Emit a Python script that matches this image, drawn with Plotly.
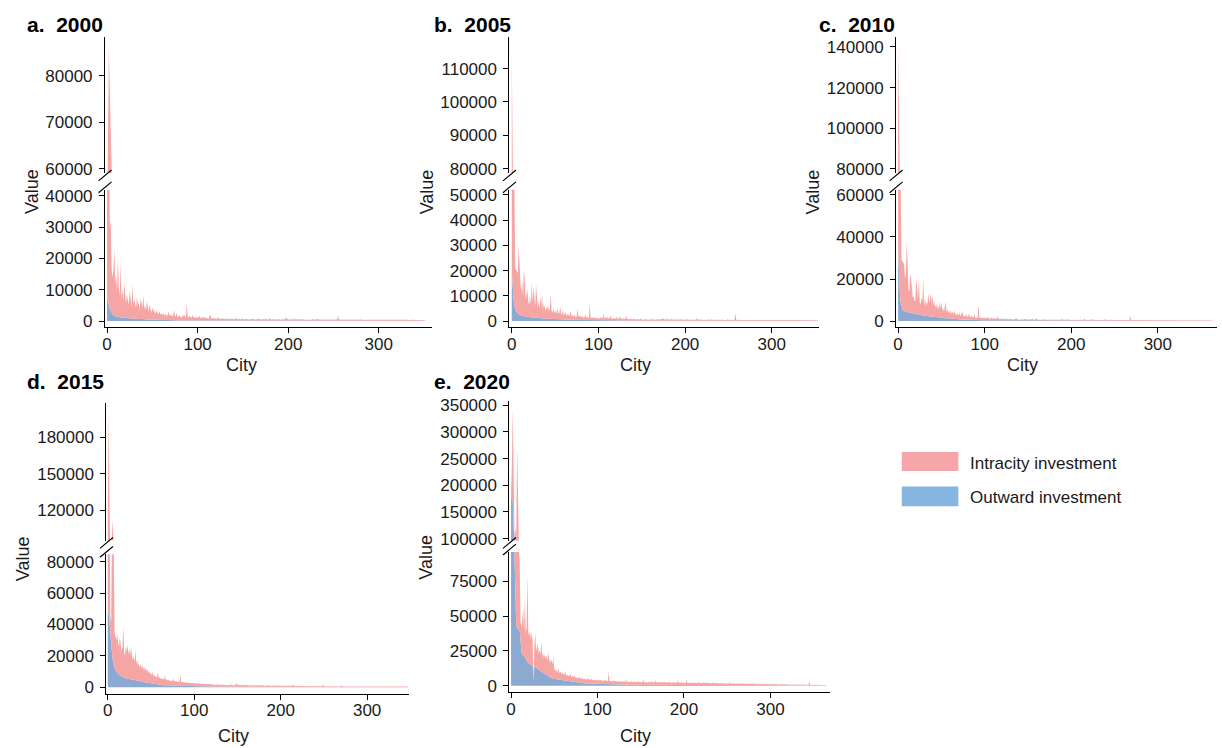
import plotly.graph_objects as go

W, H = 1222, 748
UNIT = 100  # all series values below are in hundreds
CITY_TICKS = [0, 100, 200, 300]
SERIES_NAMES = ["Intracity investment", "Outward investment"]
PANEL_TITLES = ["a.\u00a0 2000", "b.\u00a0 2005", "c.\u00a0 2010", "d.\u00a0 2015", "e.\u00a0 2020"]

LOW_TICKS_2000 = [0, 10000, 20000, 30000, 40000]
UP_TICKS_2000 = [60000, 70000, 80000]
LOW_TICKS_2005 = [0, 10000, 20000, 30000, 40000, 50000]
UP_TICKS_2005 = [80000, 90000, 100000, 110000]
LOW_TICKS_2010 = [0, 20000, 40000, 60000]
UP_TICKS_2010 = [80000, 100000, 120000, 140000]
LOW_TICKS_2015 = [0, 20000, 40000, 60000, 80000]
UP_TICKS_2015 = [120000, 150000, 180000]
LOW_TICKS_2020 = [0, 25000, 50000, 75000]
UP_TICKS_2020 = [100000, 150000, 200000, 250000, 300000, 350000]

OUT_2000 = [
78, 62, 50, 40, 32, 26, 22, 19, 17, 16, 15, 14, 13, 13, 12, 12, 11, 11, 11, 10,
10, 10, 9, 9, 9, 9, 8, 8, 8, 8, 8, 7, 7, 7, 7, 7, 6, 6, 6, 6,
6, 6, 6, 5, 5, 5, 5, 5, 5, 5, 5, 4, 4, 4, 4, 4, 4, 4, 4, 4,
4, 4, 3, 3, 3, 3, 3, 3, 3, 3, 3, 3, 3, 3, 3, 3, 2, 2, 2, 2,
2, 2, 2, 2, 2, 2, 2, 2, 2, 2, 2, 2, 2, 2, 2, 2, 2, 2, 2, 2,
2, 2, 2, 2, 2, 2, 2, 2, 2, 2, 1, 1, 1, 1, 1, 1, 1, 1, 1, 1,
1, 1, 1, 1, 1, 1, 1, 1, 1, 1, 1, 1, 1, 1, 1, 1, 1, 1, 1, 1,
1, 1, 1, 1, 1, 1, 1, 1, 1, 1, 1, 1, 1, 1, 1, 1, 1, 1, 1, 1,
1, 1, 1, 1, 1, 1, 1, 1, 1, 1, 1, 1, 1, 1, 1, 1, 1, 1, 1, 1,
1, 1, 1, 1, 1, 1, 1, 1, 1, 1, 1, 1, 1, 1, 1, 1, 1, 1, 1, 1,
1, 1, 1, 1, 1, 1, 1, 1, 1, 1, 1, 1, 1, 1, 1, 1, 1, 1, 1, 1,
1, 1, 1, 1, 1, 1, 1, 1, 1, 1, 1, 1, 1, 1, 1, 1, 1, 1, 1, 1,
1, 1, 1, 1, 1, 1, 1, 1, 1, 1, 1, 1, 1, 1, 1, 1, 1, 1, 1, 1,
1, 1, 1, 1, 1, 1, 1, 1, 1, 1, 1, 1, 1, 1, 1, 1, 1, 1, 1, 1,
1, 1, 1, 1, 1, 1, 1, 1, 1, 1, 1, 1, 1, 1, 1, 1, 1, 1, 1, 1,
1, 1, 1, 1, 1, 1, 1, 1, 1, 1, 1, 1, 1, 1, 1, 1, 1, 1, 1, 1,
1, 1, 1, 1, 1, 1, 1, 1, 1, 1, 1, 1, 1, 1, 1, 1, 1, 1, 1, 1,
1, 1, 1, 1, 1, 1, 1, 1, 1, 1, 1, 1,
]
INTRA_2000 = [
372, 558, 810, 260, 288, 144, 118, 141, 218, 104, 135, 78, 186, 95, 70, 172, 60, 88, 52, 110,
64, 48, 75, 58, 42, 90, 55, 38, 108, 47, 62, 40, 35, 70, 44, 52, 30, 66, 41, 36,
78, 33, 45, 28, 58, 38, 25, 48, 30, 22, 40, 26, 35, 19, 24, 30, 18, 21, 27, 16,
20, 15, 24, 18, 14, 22, 12, 17, 28, 13, 15, 19, 11, 16, 33, 12, 14, 24, 10, 13,
17, 11, 9, 14, 12, 20, 10, 8, 55, 12, 9, 15, 11, 8, 18, 10, 13, 7, 9, 12,
8, 10, 14, 7, 9, 11, 6, 13, 8, 10, 7, 9, 6, 12, 22, 8, 7, 10, 6, 9,
7, 5, 14, 6, 8, 5, 7, 6, 9, 5, 7, 4, 8, 6, 5, 7, 4, 6, 8, 5,
6, 4, 10, 5, 7, 4, 6, 5, 4, 8, 5, 6, 4, 5, 7, 4, 5, 3, 6, 4,
5, 7, 4, 5, 3, 6, 4, 5, 8, 4, 3, 5, 6, 4, 3, 9, 4, 5, 3, 8,
4, 3, 5, 4, 6, 3, 4, 5, 3, 4, 6, 3, 4, 3, 5, 4, 3, 12, 4, 10,
3, 5, 4, 3, 6, 4, 3, 9, 3, 4, 5, 3, 4, 3, 6, 3, 4, 5, 3, 3,
4, 3, 5, 3, 4, 3, 3, 6, 4, 3, 5, 3, 7, 3, 4, 3, 3, 5, 3, 4,
3, 3, 4, 3, 5, 3, 3, 4, 3, 3, 4, 3, 3, 5, 3, 18, 3, 4, 3, 3,
4, 3, 3, 3, 4, 3, 3, 4, 3, 3, 3, 4, 3, 3, 3, 4, 3, 3, 3, 3,
5, 3, 3, 3, 4, 3, 3, 3, 3, 4, 3, 5, 3, 3, 3, 3, 4, 3, 3, 3,
3, 3, 4, 3, 3, 3, 3, 3, 4, 3, 3, 3, 3, 3, 3, 3, 4, 3, 3, 3,
3, 3, 5, 3, 3, 3, 3, 3, 3, 3, 3, 3, 3, 2, 3, 3, 3, 3, 3, 2,
3, 2, 3, 3, 2, 3, 2, 2, 3, 2, 2, 2,
]

OUT_2005 = [
200, 130, 90, 62, 48, 40, 34, 30, 27, 25, 23, 22, 21, 20, 19, 18, 18, 17, 17, 16,
16, 15, 15, 14, 14, 14, 13, 13, 13, 12, 12, 12, 11, 11, 11, 11, 10, 10, 10, 10,
10, 9, 9, 9, 9, 9, 8, 8, 8, 8, 8, 8, 7, 7, 7, 7, 7, 7, 6, 6,
6, 6, 6, 6, 5, 5, 5, 5, 5, 5, 5, 5, 4, 4, 4, 4, 4, 4, 4, 4,
4, 4, 3, 3, 3, 3, 3, 3, 3, 3, 3, 3, 3, 3, 3, 3, 3, 3, 2, 2,
2, 2, 2, 2, 2, 2, 2, 2, 2, 2, 2, 2, 2, 2, 2, 2, 2, 2, 2, 2,
2, 2, 2, 2, 2, 2, 2, 2, 2, 2, 2, 2, 2, 2, 2, 1, 1, 1, 1, 1,
1, 1, 1, 1, 1, 1, 1, 1, 1, 1, 1, 1, 1, 1, 1, 1, 1, 1, 1, 1,
1, 1, 1, 1, 1, 1, 1, 1, 1, 1, 1, 1, 1, 1, 1, 1, 1, 1, 1, 1,
1, 1, 1, 1, 1, 1, 1, 1, 1, 1, 1, 1, 1, 1, 1, 1, 1, 1, 1, 1,
1, 1, 1, 1, 1, 1, 1, 1, 1, 1, 1, 1, 1, 1, 1, 1, 1, 1, 1, 1,
1, 1, 1, 1, 1, 1, 1, 1, 1, 1, 1, 1, 1, 1, 1, 1, 1, 1, 1, 1,
1, 1, 1, 1, 1, 1, 1, 1, 1, 1, 1, 1, 1, 1, 1, 1, 1, 1, 1, 1,
1, 1, 1, 1, 1, 1, 1, 1, 1, 1, 1, 1, 1, 1, 1, 1, 1, 1, 1, 1,
1, 1, 1, 1, 1, 1, 1, 1, 1, 1, 1, 1, 1, 1, 1, 1, 1, 1, 1, 1,
1, 1, 1, 1, 1, 1, 1, 1, 1, 1, 1, 1, 1, 1, 1, 1, 1, 1, 1, 1,
1, 1, 1, 1, 1, 1, 1, 1, 1, 1, 1, 1, 1, 1, 1, 1, 1, 1, 1, 1,
1, 1, 1, 1, 1, 1, 1, 1, 1, 1, 1, 1, 1, 1,
]
INTRA_2005 = [
943, 690, 510, 498, 162, 165, 166, 160, 278, 145, 127, 95, 140, 72, 181, 150, 68, 88, 110, 60,
52, 85, 48, 140, 62, 120, 70, 45, 132, 55, 40, 66, 38, 88, 50, 92, 34, 60, 42, 30,
48, 36, 55, 28, 44, 95, 32, 26, 40, 24, 35, 22, 30, 46, 20, 27, 50, 18, 24, 40,
16, 22, 30, 15, 19, 26, 14, 20, 34, 13, 18, 12, 22, 15, 11, 17, 46, 12, 14, 20,
10, 13, 16, 9, 12, 22, 10, 14, 8, 11, 62, 10, 9, 13, 8, 12, 7, 10, 9, 8,
11, 7, 9, 14, 8, 10, 25, 7, 12, 9, 16, 7, 10, 8, 22, 6, 9, 7, 11, 6,
8, 14, 6, 9, 7, 18, 6, 8, 5, 10, 6, 7, 20, 5, 8, 6, 5, 7, 9, 5,
6, 5, 8, 4, 6, 5, 7, 4, 5, 9, 4, 6, 5, 4, 7, 5, 4, 6, 5, 4,
6, 4, 5, 7, 4, 5, 4, 6, 5, 8, 4, 5, 6, 4, 5, 9, 4, 7, 5, 4,
10, 4, 5, 4, 8, 4, 5, 6, 4, 5, 4, 7, 4, 5, 4, 6, 4, 5, 4, 4,
5, 4, 7, 4, 4, 5, 4, 6, 4, 4, 5, 4, 4, 10, 4, 6, 4, 4, 5, 3,
4, 3, 5, 3, 4, 4, 3, 5, 3, 4, 3, 6, 3, 4, 3, 4, 5, 3, 4, 3,
3, 4, 3, 5, 3, 3, 4, 3, 3, 6, 3, 4, 3, 3, 4, 3, 3, 5, 30, 3,
4, 3, 3, 4, 3, 3, 3, 4, 3, 3, 5, 3, 3, 3, 4, 3, 3, 3, 4, 3,
3, 5, 3, 3, 3, 3, 4, 3, 3, 3, 3, 3, 4, 3, 3, 3, 3, 5, 3, 3,
3, 3, 3, 4, 3, 3, 3, 3, 3, 3, 4, 3, 3, 5, 3, 3, 3, 3, 3, 3,
3, 3, 3, 3, 4, 3, 3, 3, 3, 3, 3, 3, 3, 3, 3, 2, 3, 3, 3, 3,
2, 3, 3, 2, 3, 2, 3, 2, 2, 2, 3, 2, 2, 2,
]

OUT_2010 = [
350, 220, 140, 90, 68, 56, 50, 47, 45, 44, 43, 42, 41, 40, 39, 38, 37, 36, 35, 34,
33, 33, 32, 31, 30, 30, 29, 28, 28, 27, 26, 26, 25, 25, 24, 24, 23, 23, 22, 22,
21, 21, 20, 20, 19, 19, 18, 18, 17, 17, 16, 16, 15, 15, 14, 14, 13, 13, 13, 12,
12, 12, 11, 11, 11, 10, 10, 10, 9, 9, 9, 9, 8, 8, 8, 8, 7, 7, 7, 7,
7, 6, 6, 6, 6, 6, 6, 5, 5, 5, 5, 5, 5, 5, 4, 4, 4, 4, 4, 4,
4, 4, 4, 4, 3, 3, 3, 3, 3, 3, 3, 3, 3, 3, 3, 3, 3, 3, 3, 2,
2, 2, 2, 2, 2, 2, 2, 2, 2, 2, 2, 2, 2, 2, 2, 2, 2, 2, 2, 2,
2, 2, 2, 2, 2, 2, 2, 2, 2, 2, 2, 2, 2, 2, 2, 2, 2, 2, 2, 2,
1, 1, 1, 1, 1, 1, 1, 1, 1, 1, 1, 1, 1, 1, 1, 1, 1, 1, 1, 1,
1, 1, 1, 1, 1, 1, 1, 1, 1, 1, 1, 1, 1, 1, 1, 1, 1, 1, 1, 1,
1, 1, 1, 1, 1, 1, 1, 1, 1, 1, 1, 1, 1, 1, 1, 1, 1, 1, 1, 1,
1, 1, 1, 1, 1, 1, 1, 1, 1, 1, 1, 1, 1, 1, 1, 1, 1, 1, 1, 1,
1, 1, 1, 1, 1, 1, 1, 1, 1, 1, 1, 1, 1, 1, 1, 1, 1, 1, 1, 1,
1, 1, 1, 1, 1, 1, 1, 1, 1, 1, 1, 1, 1, 1, 1, 1, 1, 1, 1, 1,
1, 1, 1, 1, 1, 1, 1, 1, 1, 1, 1, 1, 1, 1, 1, 1, 1, 1, 1, 1,
1, 1, 1, 1, 1, 1, 1, 1, 1, 1, 1, 1, 1, 1, 1, 1, 1, 1, 1, 1,
1, 1, 1, 1, 1, 1, 1, 1, 1, 1, 1, 1, 1, 1, 1, 1, 1, 1, 1, 1,
1, 1, 1, 1, 1, 1, 1, 1, 1, 1, 1, 1, 1, 1, 1, 1, 1, 1, 1, 1,
1, 1, 1, 1,
]
INTRA_2010 = [
1070, 730, 660, 550, 222, 229, 230, 223, 155, 186, 339, 138, 109, 99, 187, 162, 93, 74, 85, 61,
67, 171, 126, 74, 175, 60, 51, 82, 67, 176, 50, 85, 44, 70, 55, 110, 63, 95, 112, 58,
99, 50, 74, 42, 66, 38, 57, 35, 75, 40, 77, 33, 48, 30, 52, 79, 28, 45, 26, 40,
24, 38, 22, 35, 20, 42, 19, 30, 18, 27, 16, 33, 15, 24, 39, 14, 22, 13, 18, 25,
12, 17, 30, 11, 15, 20, 10, 14, 26, 10, 13, 9, 16, 73, 11, 9, 14, 8, 12, 10,
9, 13, 8, 11, 18, 8, 10, 7, 15, 9, 8, 12, 7, 10, 8, 20, 7, 9, 6, 11,
8, 6, 13, 7, 9, 6, 8, 10, 6, 7, 9, 6, 8, 5, 7, 6, 8, 12, 6, 5,
7, 5, 6, 8, 5, 6, 7, 5, 9, 5, 6, 5, 7, 5, 6, 10, 5, 6, 5, 7,
12, 5, 6, 5, 7, 5, 6, 5, 8, 5, 6, 5, 5, 7, 5, 6, 5, 5, 8, 5,
6, 5, 5, 7, 5, 6, 5, 5, 6, 9, 5, 5, 6, 5, 5, 7, 5, 5, 6, 5,
5, 4, 6, 4, 5, 4, 7, 4, 5, 4, 4, 6, 4, 5, 4, 12, 4, 5, 4, 6,
4, 4, 5, 4, 10, 4, 5, 4, 4, 5, 4, 4, 6, 4, 4, 5, 4, 4, 8, 4,
4, 5, 4, 4, 4, 5, 4, 4, 4, 6, 4, 4, 4, 5, 4, 4, 4, 4, 5, 4,
4, 4, 5, 4, 4, 4, 4, 4, 25, 4, 4, 4, 5, 4, 4, 3, 4, 4, 3, 4,
3, 4, 3, 3, 4, 3, 3, 3, 4, 3, 3, 5, 3, 3, 3, 4, 3, 3, 3, 3,
4, 3, 3, 3, 3, 3, 4, 3, 3, 3, 5, 3, 3, 3, 3, 3, 3, 4, 3, 3,
3, 3, 3, 3, 3, 4, 3, 3, 3, 3, 3, 3, 3, 3, 3, 3, 3, 2, 3, 3,
3, 2, 3, 3, 2, 3, 2, 3, 2, 2, 3, 2, 2, 2, 2, 3, 2, 2, 2, 2, 2, 2, 2, 2,
]

OUT_2015 = [
490, 480, 420, 330, 260, 215, 170, 140, 125, 110, 100, 92, 86, 80, 76, 72, 69, 66, 63, 61,
59, 58, 57, 56, 55, 54, 53, 52, 51, 50, 49, 48, 47, 46, 45, 44, 43, 42, 41, 40,
38, 36, 34, 32, 30, 29, 27, 26, 25, 24, 22, 21, 20, 19, 18, 17, 17, 16, 16, 15,
15, 14, 14, 13, 13, 13, 12, 12, 12, 11, 11, 11, 11, 10, 10, 10, 10, 10, 9, 9,
9, 9, 9, 9, 8, 8, 8, 8, 8, 8, 8, 7, 7, 7, 7, 7, 7, 7, 7, 7,
7, 6, 6, 6, 6, 6, 6, 6, 6, 6, 5, 5, 5, 5, 5, 5, 5, 5, 5, 5,
5, 5, 4, 4, 4, 4, 4, 4, 4, 4, 4, 4, 4, 4, 4, 4, 4, 4, 3, 3,
3, 3, 3, 3, 3, 3, 3, 3, 3, 3, 3, 3, 3, 3, 3, 3, 3, 3, 3, 3,
3, 3, 3, 3, 3, 3, 3, 3, 3, 3, 3, 3, 3, 3, 3, 3, 3, 3, 3, 3,
2, 2, 2, 2, 2, 2, 2, 2, 2, 2, 2, 2, 2, 2, 2, 2, 2, 2, 2, 2,
2, 2, 2, 2, 2, 2, 2, 2, 2, 2, 2, 2, 2, 2, 2, 2, 2, 2, 2, 2,
2, 2, 2, 2, 2, 2, 2, 2, 2, 2, 2, 2, 2, 2, 2, 2, 2, 2, 2, 2,
1, 1, 1, 1, 1, 1, 1, 1, 1, 1, 1, 1, 1, 1, 1, 1, 1, 1, 1, 1,
1, 1, 1, 1, 1, 1, 1, 1, 1, 1, 1, 1, 1, 1, 1, 1, 1, 1, 1, 1,
1, 1, 1, 1, 1, 1, 1, 1, 1, 1, 1, 1, 1, 1, 1, 1, 1, 1, 1, 1,
1, 1, 1, 1, 1, 1, 1, 1, 1, 1, 1, 1, 1, 1, 1, 1, 1, 1, 1, 1,
1, 1, 1, 1, 1, 1, 1, 1, 1, 1, 1, 1, 1, 1, 1, 1, 1, 1, 1, 1,
1, 1, 1, 1, 1, 1, 1, 1,
]
INTRA_2015 = [
510, 1550, 830, 115, 160, 912, 830, 700, 215, 220, 200, 248, 194, 180, 244, 168, 161, 189, 329, 159,
141, 207, 173, 214, 155, 191, 147, 203, 129, 120, 151, 112, 189, 104, 130, 96, 107, 83, 109, 80,
107, 74, 101, 73, 95, 71, 88, 64, 80, 61, 70, 55, 78, 50, 62, 46, 58, 44, 85, 40,
52, 38, 47, 36, 44, 34, 60, 32, 42, 30, 38, 29, 35, 28, 33, 27, 48, 26, 31, 25,
30, 24, 29, 23, 70, 23, 28, 22, 26, 21, 25, 20, 24, 19, 23, 18, 22, 18, 21, 17,
21, 17, 20, 16, 19, 16, 19, 15, 18, 15, 17, 14, 17, 14, 16, 14, 16, 13, 15, 13,
15, 13, 14, 12, 14, 12, 13, 12, 13, 11, 13, 11, 12, 11, 12, 11, 12, 10, 11, 10,
11, 10, 14, 10, 11, 10, 12, 9, 11, 22, 10, 9, 11, 9, 10, 9, 11, 9, 10, 9,
12, 9, 10, 8, 10, 8, 9, 8, 10, 8, 9, 8, 9, 8, 9, 8, 9, 8, 11, 8,
9, 8, 8, 9, 7, 8, 10, 7, 8, 7, 8, 7, 9, 7, 8, 7, 8, 7, 7, 8,
7, 7, 8, 7, 7, 9, 7, 7, 7, 8, 6, 7, 6, 7, 12, 6, 7, 6, 6, 7,
6, 6, 7, 6, 6, 6, 7, 6, 6, 5, 6, 5, 6, 5, 6, 5, 5, 6, 5, 5,
5, 6, 5, 5, 5, 5, 5, 5, 5, 18, 5, 5, 5, 5, 5, 5, 4, 5, 4, 5,
4, 5, 4, 4, 5, 4, 4, 4, 5, 4, 12, 4, 4, 4, 4, 4, 4, 3, 4, 3,
3, 4, 3, 3, 3, 4, 3, 3, 3, 3, 3, 4, 3, 3, 3, 3, 3, 3, 3, 3,
3, 3, 3, 4, 3, 3, 3, 3, 3, 3, 3, 3, 3, 3, 4, 3, 3, 3, 3, 3,
3, 3, 3, 3, 3, 3, 3, 3, 3, 3, 3, 3, 2, 3, 3, 3, 3, 3, 3, 3,
3, 2, 3, 3, 3, 2, 3, 3,
]

OUT_2020 = [
1780, 1750, 1700, 1180, 900, 700, 430, 415, 405, 400, 395, 330, 235, 228, 222, 216, 205, 190, 178, 168,
162, 158, 154, 150, 148, 145, 40, 140, 136, 130, 125, 120, 115, 108, 104, 100, 96, 92, 88, 84,
80, 76, 72, 68, 62, 58, 56, 54, 52, 50, 49, 48, 47, 46, 45, 44, 43, 42, 40, 39,
38, 37, 36, 35, 34, 33, 31, 30, 29, 28, 27, 26, 25, 24, 23, 22, 21, 20, 20, 19,
19, 18, 18, 17, 17, 16, 16, 16, 15, 15, 15, 14, 14, 14, 14, 13, 13, 13, 13, 12,
12, 12, 12, 12, 11, 11, 11, 11, 11, 10, 10, 10, 10, 10, 10, 9, 9, 9, 9, 9,
9, 9, 8, 8, 8, 8, 8, 8, 8, 8, 7, 7, 7, 7, 7, 7, 7, 7, 7, 7,
7, 6, 6, 6, 6, 6, 6, 6, 6, 6, 6, 6, 6, 6, 6, 6, 6, 5, 5, 5,
5, 5, 5, 5, 5, 5, 5, 5, 5, 5, 5, 5, 5, 5, 5, 5, 5, 5, 5, 5,
5, 5, 5, 5, 5, 5, 5, 5, 5, 5, 5, 5, 5, 5, 5, 5, 5, 5, 5, 5,
4, 4, 4, 4, 4, 4, 4, 4, 4, 4, 4, 4, 4, 4, 4, 4, 4, 4, 4, 4,
4, 4, 4, 4, 4, 4, 4, 4, 4, 4, 4, 4, 4, 4, 4, 4, 4, 4, 4, 4,
3, 3, 3, 3, 3, 3, 3, 3, 3, 3, 3, 3, 3, 3, 3, 3, 3, 3, 3, 3,
3, 3, 3, 3, 3, 3, 3, 3, 3, 3, 3, 3, 3, 3, 3, 3, 3, 3, 3, 3,
2, 2, 2, 2, 2, 2, 2, 2, 2, 2, 2, 2, 2, 2, 2, 2, 2, 2, 2, 2,
2, 2, 2, 2, 2, 2, 2, 2, 2, 2, 2, 2, 2, 2, 2, 2, 2, 2, 2, 2,
1, 1, 1, 1, 1, 1, 1, 1, 1, 1, 1, 1, 1, 1, 1, 1, 1, 1, 1, 1,
1, 1, 1, 1, 1, 1, 1, 1, 1, 1, 1, 1, 1, 1, 1, 1, 1, 1, 1, 1,
1, 1, 1, 1, 1, 1,
]
INTRA_2020 = [
120, 650, 1750, 170, 150, 510, 570, 2295, 1095, 580,
505, 130, 185, 250, 335, 180, 430, 190, 245, 632,
218, 202, 246, 180, 242, 165, 20, 150, 244, 120,
145, 180, 115, 152, 116, 220, 114, 148, 112, 146,
110, 144, 108, 182, 108, 142, 104, 136, 98, 160,
60, 78, 52, 70, 48, 85, 45, 62, 44, 58,
42, 55, 40, 66, 38, 50, 36, 48, 35, 60,
34, 45, 33, 52, 32, 42, 31, 40, 30, 48,
30, 38, 29, 44, 28, 36, 28, 34, 27, 40,
27, 33, 26, 38, 26, 32, 25, 30, 25, 36,
25, 30, 24, 34, 24, 29, 23, 28, 23, 32,
23, 28, 22, 90, 22, 27, 21, 26, 21, 30,
21, 26, 20, 28, 20, 25, 20, 24, 19, 27,
19, 24, 19, 35, 18, 23, 18, 22, 18, 28,
18, 22, 17, 26, 17, 21, 17, 30, 17, 22,
17, 21, 16, 36, 16, 21, 16, 20, 16, 24,
18, 24, 17, 28, 17, 22, 17, 32, 17, 23,
17, 22, 16, 26, 16, 21, 16, 25, 16, 22,
16, 21, 16, 27, 15, 20, 15, 24, 15, 21,
15, 20, 15, 34, 15, 20, 15, 23, 15, 20,
14, 19, 14, 40, 14, 19, 14, 22, 14, 19,
14, 18, 14, 21, 13, 18, 13, 24, 13, 18,
13, 17, 13, 20, 13, 17, 12, 22, 12, 17,
12, 16, 12, 20, 12, 16, 12, 18, 12, 16,
11, 15, 11, 19, 11, 15, 11, 17, 11, 15,
11, 14, 11, 24, 10, 14, 10, 16, 10, 14,
10, 13, 10, 15, 10, 13, 9, 15, 9, 13,
9, 12, 9, 14, 9, 12, 9, 13, 9, 12,
9, 11, 8, 13, 8, 11, 8, 12, 8, 11,
8, 10, 8, 12, 8, 10, 8, 11, 7, 10,
7, 10, 7, 16, 7, 9, 7, 11, 7, 9,
7, 9, 6, 10, 6, 9, 6, 10, 6, 8,
6, 8, 6, 9, 6, 8, 5, 9, 5, 8,
5, 7, 5, 8, 5, 7, 5, 8, 5, 7,
5, 6, 4, 7, 4, 30, 4, 6, 4, 6,
4, 5, 4, 5, 3, 5, 3, 4, 3, 4,
3, 3, 3, 3, 2, 2,
]

# ---------------- geometry (pixels in the 1222x748 page) ----------------
PANELS = [
    dict(out=OUT_2000, intra=INTRA_2000, title=PANEL_TITLES[0], lowticks=LOW_TICKS_2000, upticks=UP_TICKS_2000,
         ax=102.3, xr=430.0, up=(32.3, 171.0), low=(188.0, 327.7), xrange=(-2.2, 358.7),
         lowrange=(-1880, 41880), uprange=(59090, 88380), tpos=(22.5, 20), vpos=(28.3, 190), cpos=(239.3, 366.5)),
    dict(out=OUT_2005, intra=INTRA_2005, title=PANEL_TITLES[1], lowticks=LOW_TICKS_2005, upticks=UP_TICKS_2005,
         ax=507.7, xr=817.7, up=(32.3, 171.0), low=(188.0, 327.7), xrange=(-2.65, 354.1),
         lowrange=(-2336, 52064), uprange=(78735, 119530), tpos=(430, 20), vpos=(424.7, 190), cpos=(634.5, 366.5)),
    dict(out=OUT_2010, intra=INTRA_2010, title=PANEL_TITLES[2], lowticks=LOW_TICKS_2010, upticks=UP_TICKS_2010,
         ax=895.3, xr=1216.7, up=(32.3, 171.0), low=(188.0, 327.7), xrange=(-2.3, 368.0),
         lowrange=(-2804, 62477), uprange=(77919, 145032), tpos=(816, 20), vpos=(811.7, 190), cpos=(1022.5, 366.5)),
    dict(out=OUT_2015, intra=INTRA_2015, title=PANEL_TITLES[3], lowticks=LOW_TICKS_2015, upticks=UP_TICKS_2015,
         ax=103.7, xr=406.7, up=(405.0, 545.0), low=(559.0, 701.0), xrange=(-1.5, 348.1),
         lowrange=(-4201, 84828), uprange=(95208, 208264), tpos=(22.5, 383), vpos=(20, 563), cpos=(230.8, 738)),
    dict(out=OUT_2020, intra=INTRA_2020, title=PANEL_TITLES[4], lowticks=LOW_TICKS_2020, upticks=UP_TICKS_2020,
         ax=507.7, xr=829.0, up=(403.3, 545.0), low=(556.7, 699.3), xrange=(-1.85, 368.9),
         lowrange=(-4670, 96227), uprange=(96315, 357369), tpos=(430.5, 383), vpos=(424.5, 562), cpos=(634.5, 738)),
]

PINK = "#F6A5A5"
BLUE = "#8BA9D1"
LEG_PINK = "#F6A6A8"
LEG_BLUE = "#86B5E0"
FONT = "Liberation Sans, Arial, sans-serif"
TXT = "#1a1a1a"
TICKFONT = dict(family=FONT, size=17, color=TXT)


def axname(letter, k):
    return f"{letter}axis" if k == 1 else f"{letter}axis{k}"


def axref(letter, k):
    return letter if k == 1 else f"{letter}{k}"


fig = go.Figure()
layout = dict(width=W, height=H, margin=dict(l=0, r=0, t=0, b=0),
              paper_bgcolor="white", plot_bgcolor="rgba(0,0,0,0)", showlegend=False)
shapes, annotations = [], []

for i, p in enumerate(PANELS):
    n = min(len(p["out"]), len(p["intra"]))
    cities = list(range(n))
    out = [v * UNIT for v in p["out"][:n]]
    intra = [v * UNIT for v in p["intra"][:n]]
    lk, uk = 2 * i + 1, 2 * i + 2
    for k in (lk, uk):
        g = f"stack{k}"
        fig.add_trace(go.Scatter(x=cities, y=out, mode="lines", line=dict(width=0, color=BLUE),
                                 fillcolor=BLUE, stackgroup=g, name=SERIES_NAMES[1],
                                 xaxis=axref("x", k), yaxis=axref("y", k), hoverinfo="skip"))
        fig.add_trace(go.Scatter(x=cities, y=intra, mode="lines", line=dict(width=0, color=PINK),
                                 fillcolor=PINK, stackgroup=g, name=SERIES_NAMES[0],
                                 xaxis=axref("x", k), yaxis=axref("y", k), hoverinfo="skip"))

    xdom = [p["ax"] / W, p["xr"] / W]
    common = dict(showline=True, linecolor="black", linewidth=1.2, ticks="outside", ticklen=5,
                  tickwidth=1.2, tickcolor="black", showgrid=False, zeroline=False, tickfont=TICKFONT)
    layout[axname("x", lk)] = dict(domain=xdom, range=list(p["xrange"]), anchor=axref("y", lk),
                                   tickvals=CITY_TICKS, ticklabelstandoff=-4, **common)
    layout[axname("y", lk)] = dict(domain=[1 - p["low"][1] / H, 1 - p["low"][0] / H], range=list(p["lowrange"]),
                                   anchor=axref("x", lk), tickvals=p["lowticks"], tickformat="d",
                                   ticklabelstandoff=3, **common)
    layout[axname("x", uk)] = dict(domain=xdom, range=list(p["xrange"]), anchor=axref("y", uk), visible=False)
    layout[axname("y", uk)] = dict(domain=[1 - p["up"][1] / H, 1 - p["up"][0] / H], range=list(p["uprange"]),
                                   anchor=axref("x", uk), tickvals=p["upticks"], tickformat="d",
                                   ticklabelstandoff=3, **common)

    # axis-break marks
    for cy in (p["up"][1] + 2.5, p["low"][0] - 2.5):
        shapes.append(dict(type="line", xref="paper", yref="paper",
                           x0=(p["ax"] - 6.5) / W, y0=1 - (cy + 5.5) / H,
                           x1=(p["ax"] + 6.5) / W, y1=1 - (cy - 5.5) / H,
                           line=dict(color="black", width=1.2)))

    annotations.append(dict(text=f"<b>{p['title']}</b>", x=p["tpos"][0] / W, y=1 - p["tpos"][1] / H,
                            xref="paper", yref="paper", xanchor="left", yanchor="middle", showarrow=False,
                            font=dict(family=FONT, size=21, color="black")))
    annotations.append(dict(text="Value", x=p["vpos"][0] / W, y=1 - p["vpos"][1] / H, textangle=-90,
                            xref="paper", yref="paper", xanchor="center", yanchor="middle", showarrow=False,
                            font=dict(family=FONT, size=18, color=TXT)))
    if p["cpos"][1] > 700:
        # bottom row: label sits right at the page bottom
        annotations.append(dict(text="City", x=p["cpos"][0] / W, y=0, borderpad=0, yshift=-7,
                                xref="paper", yref="paper", xanchor="center", yanchor="bottom", showarrow=False,
                                font=dict(family=FONT, size=18, color=TXT)))
    else:
        annotations.append(dict(text="City", x=p["cpos"][0] / W, y=1 - p["cpos"][1] / H,
                                xref="paper", yref="paper", xanchor="center", yanchor="middle", showarrow=False,
                                font=dict(family=FONT, size=18, color=TXT)))

# legend (drawn as swatches + text)
LEGEND = [(SERIES_NAMES[0], LEG_PINK, 455.0, 474.3), (SERIES_NAMES[1], LEG_BLUE, 490.0, 510.0)]
for name, col, y0, y1 in LEGEND:
    shapes.append(dict(type="rect", xref="paper", yref="paper", x0=901 / W, x1=957.7 / W,
                       y0=1 - y1 / H, y1=1 - y0 / H, fillcolor=col, line=dict(width=0)))
    annotations.append(dict(text=name, x=967.5 / W, y=1 - ((y0 + y1) / 2 + 1.5) / H, xref="paper", yref="paper",
                            xanchor="left", yanchor="middle", showarrow=False,
                            font=dict(family=FONT, size=17, color=TXT)))

layout["shapes"] = shapes
layout["annotations"] = annotations
fig.update_layout(**layout)
fig.write_html("out.html")
